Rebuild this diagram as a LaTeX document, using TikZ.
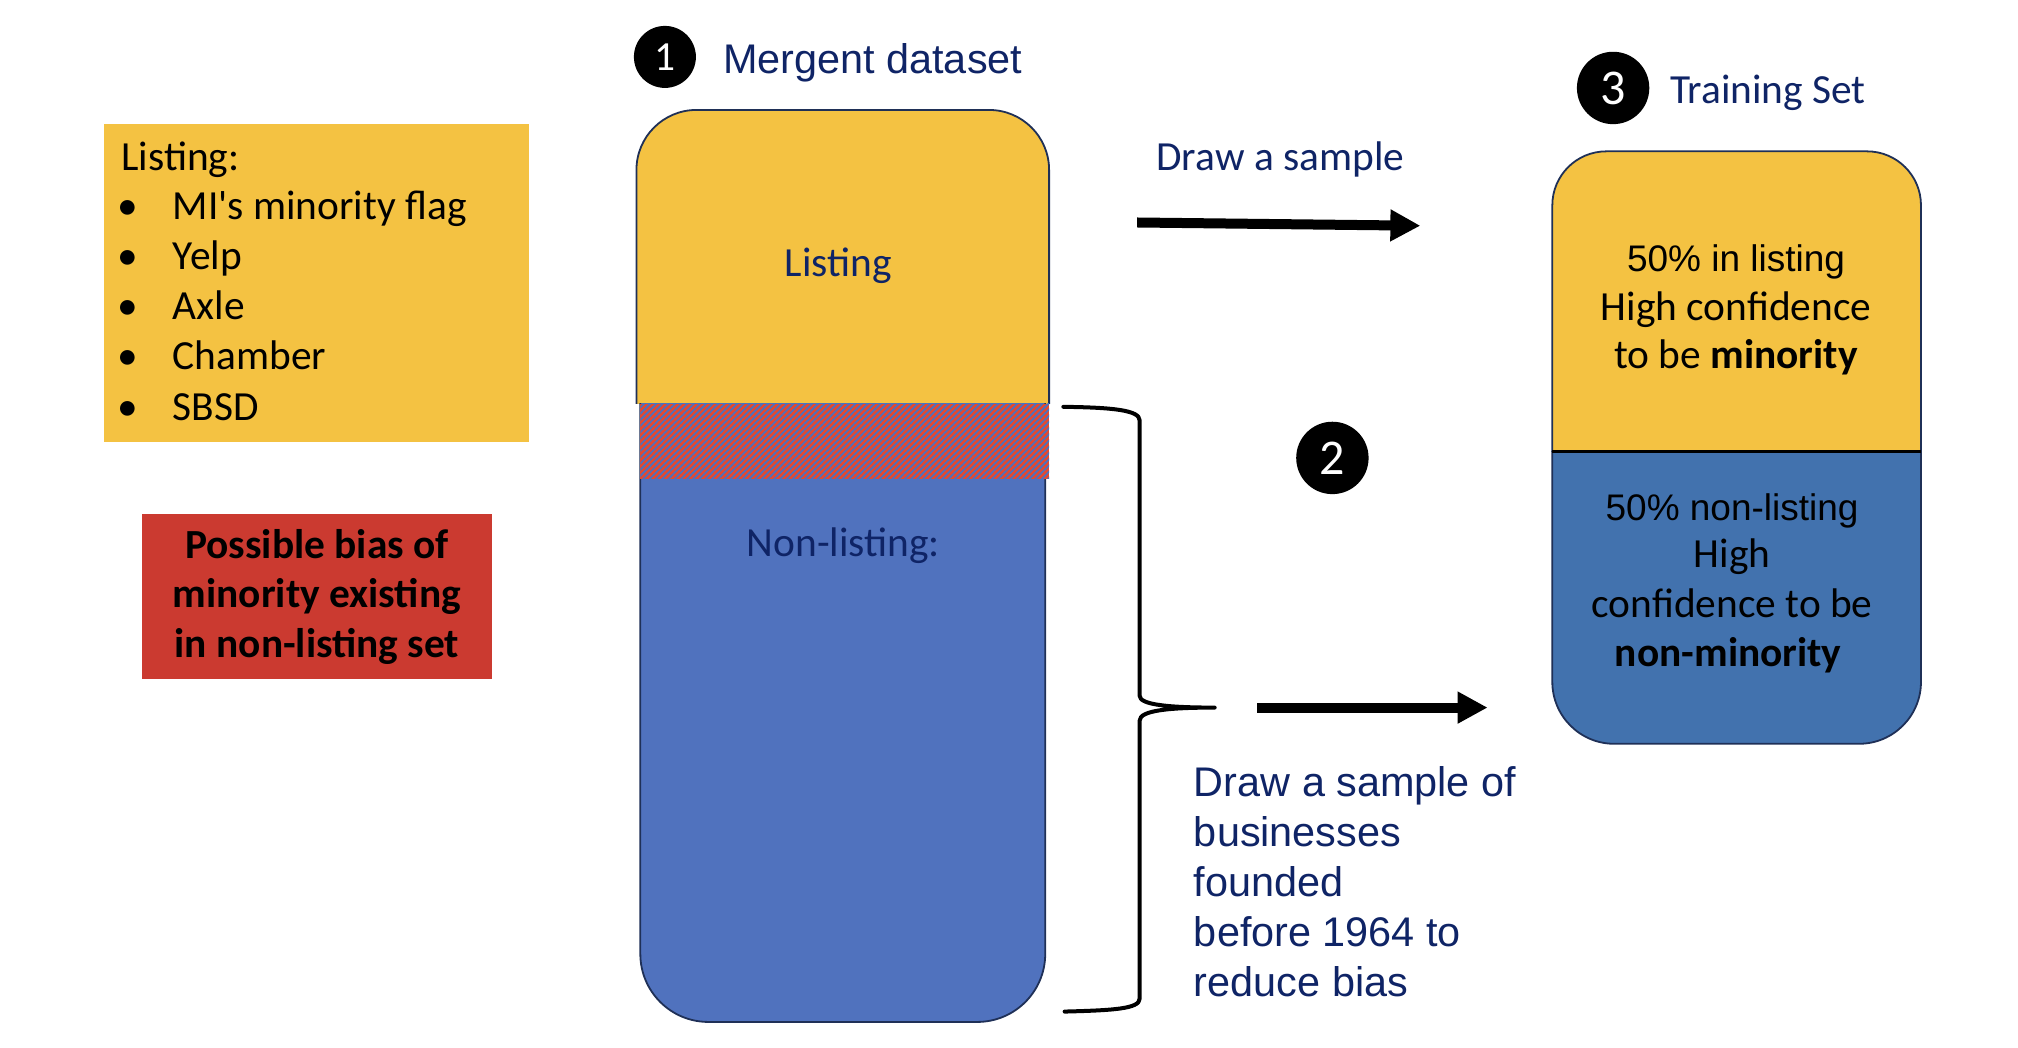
\documentclass[tikz,border=0pt]{standalone}
\usepackage{fontspec}
\setmainfont{Carlito}
\newfontfamily\arialf{Liberation Sans}
\usetikzlibrary{arrows.meta,patterns.meta}
\definecolor{yel}{HTML}{F4C242}
\definecolor{tubeblue}{HTML}{5072BE}
\definecolor{trainblue}{HTML}{4272AE}
\definecolor{redbox}{HTML}{CB3A30}
\definecolor{navy}{HTML}{0F2466}
\definecolor{bord}{HTML}{1F3057}
\definecolor{hatchred}{HTML}{E8482B}
\definecolor{hatchblue}{HTML}{4A72C0}
\newcommand\myfs[1]{\fontsize{#1pt}{#1pt}\selectfont}
\begin{document}
\begin{tikzpicture}[x=0.6468pt,y=-0.6468pt,
  every node/.style={inner sep=0pt,outer sep=0pt},
  cal/.style={font=\myfs{20.7}},
  calb/.style={font=\bfseries\myfs{20.7}},
  ari/.style={font=\arialf\myfs{20.7}},
  arismall/.style={font=\arialf\myfs{18.5}},
  navytxt/.style={text=navy},
  numcirc/.style={circle,fill=black,text=white},
  bigarrow/.style={line width=5pt,-{Triangle[length=15pt,width=15pt]}},
  bracestyle/.style={line width=2pt,line cap=round,line join=round}]
\useasboundingbox (0,0) rectangle (1560,810);

% left listing box
\fill[yel] (80.4,96) rectangle (409,341.7);
\node[cal,anchor=base west] (l0) at (94,132) {Listing:};
\foreach \t/\yy [count=\i] in {MI\textquotesingle s minority flag/170, Yelp/208, Axle/247, Chamber/286, SBSD/324.7}{
  \node[cal,anchor=base] (b\i) at (99,\yy) {•};
  \node[cal,anchor=base west] (l\i) at (133.6,\yy) {\t};
}

% red box
\fill[redbox] (110,397) rectangle (380,525);
\node[calb,anchor=base] (r1) at (245,431.5) {Possible bias of};
\node[calb,anchor=base] (r2) at (245,470) {minority existing};
\node[calb,anchor=base] (r3) at (245,508.5) {in non-listing set};

% tube (mergent dataset)
\begin{scope}
  \clip (400,0) rectangle (900,312);
  \draw[fill=yel,draw=bord,line width=0.9pt,rounded corners=30pt] (492,85) rectangle (811,420);
\end{scope}
\begin{scope}
  \clip (400,312) rectangle (900,810);
  \draw[fill=tubeblue,draw=bord,line width=0.9pt,rounded corners=34pt] (495,200) rectangle (808,790);
\end{scope}
\fill[hatchred] (495,312) rectangle (811,370);
\fill[pattern={Lines[angle=45,distance=2.2pt,line width=0.9pt]},pattern color=hatchblue] (495,312) rectangle (811,370);
\node[cal,navytxt,anchor=base] (lst) at (648,214) {Listing};
\node[cal,navytxt,anchor=base] (nlst) at (652,430.5) {Non-listing:};

% titles
\node[numcirc,minimum size=31pt,font=\myfs{20.7}] (c1) at (514,44) {1};
\node[ari,navytxt,anchor=base west] (t1) at (559,56.6) {Mergent dataset};
\node[numcirc,minimum size=36.2pt,font=\myfs{25}] (c3) at (1247,68) {3};
\node[cal,navytxt,anchor=base west] (t3) at (1291,80) {Training Set};
\node[numcirc,minimum size=36.2pt,font=\myfs{25}] (c2) at (1030,354) {2};

% arrow 1
\node[cal,navytxt,anchor=base west] (ds) at (894,132) {Draw a sample};
\coordinate (a1s) at (879,172);
\coordinate (a1e) at (1098,174.5);
\draw[bigarrow] (a1s) -- (a1e);

% training box
\begin{scope}
  \clip (1150,0) rectangle (1550,349);
  \draw[fill=yel,draw=bord,line width=0.9pt,rounded corners=27pt] (1200,117) rectangle (1485,420);
\end{scope}
\begin{scope}
  \clip (1150,349) rectangle (1550,810);
  \draw[fill=trainblue,draw=bord,line width=0.9pt,rounded corners=31pt] (1200,280) rectangle (1485,575);
\end{scope}
\coordinate (dl) at (1200,349);
\coordinate (dr) at (1485,349);
\draw[black,line width=1.5pt] (dl) -- (dr);
\node[arismall,anchor=base] (y1) at (1342,210) {50\% in listing};
\node[cal,anchor=base] (y2) at (1342,247.5) {High confidence};
\node[cal,anchor=base] (y3) at (1342,284.6) {to be \textbf{minority}};
\node[arismall,anchor=base] (n1) at (1339,402) {50\% non-listing};
\node[cal,anchor=base] (n2) at (1339,439) {High};
\node[cal,anchor=base] (n3) at (1339,477) {confidence to be};
\node[calb,anchor=base] (n4) at (1336,515.6) {non-minority};

% brace
\coordinate (brt) at (822,314.5);
\coordinate (brtip) at (939,547);
\coordinate (brb) at (823,782);
\draw[bracestyle] (brt) .. controls (860,315) and (881,317) .. (881,325) -- (881,538)
  .. controls (881,545) and (905,547) .. (brtip)
  .. controls (905,547) and (881,549) .. (881,557) -- (881,772)
  .. controls (881,780) and (860,781) .. (brb);

% arrow 2
\coordinate (a2s) at (972,547);
\coordinate (a2e) at (1150,547);
\draw[bigarrow] (a2s) -- (a2e);

% bottom text
\foreach \t/\yy [count=\i] in {Draw a sample of/616, businesses/654.5, founded/693, before 1964 to/732, reduce bias/770.7}{
  \node[ari,navytxt,anchor=base west] (d\i) at (923,\yy) {\t};
}
\end{tikzpicture}
\end{document}
